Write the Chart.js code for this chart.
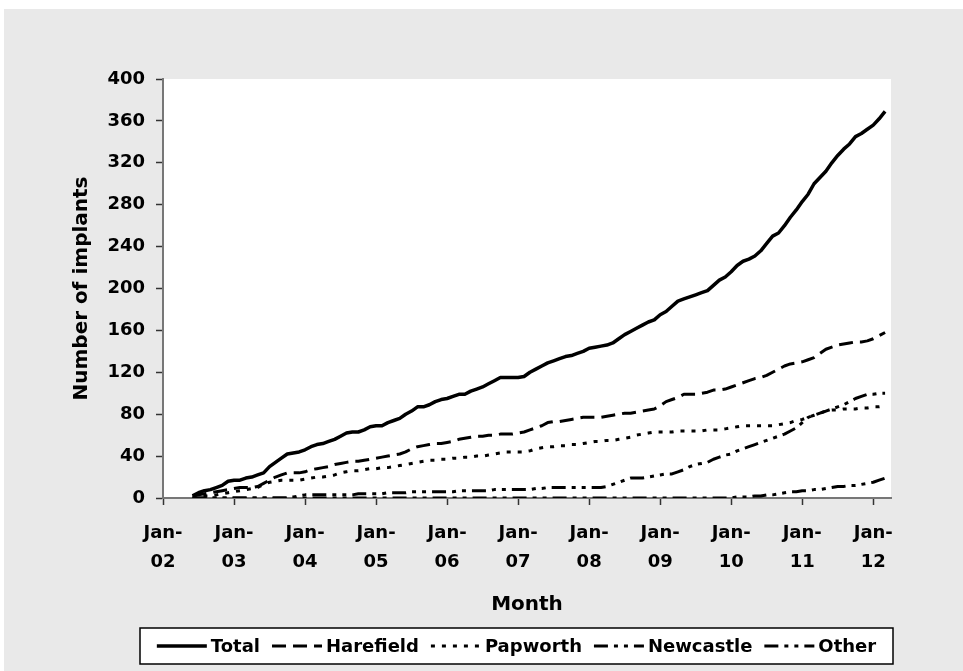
<!DOCTYPE html>
<html>
<head>
<meta charset="utf-8">
<script src="https://cdn.jsdelivr.net/npm/chart.js@4.4.0/dist/chart.umd.min.js"></script>
<style>
  html, body { margin: 0; padding: 0; background: #fff; }
  #wrap { position: absolute; left: 0; top: 0; width: 963px; height: 671px; }
</style>
</head>
<body>
<div id="wrap"><canvas id="chart" width="963" height="671"></canvas></div>
<script>
// months are counted from Jan 2002 (0); first data point is Jun 2002
const firstMonth = 5
const tickLabels = ['Jan-02', 'Jan-03', 'Jan-04', 'Jan-05', 'Jan-06', 'Jan-07', 'Jan-08', 'Jan-09', 'Jan-10', 'Jan-11', 'Jan-12']
const yTicks = [0, 40, 80, 120, 160, 200, 240, 280, 320, 360, 400]

const total = [
  2, 5, 7, 8, 10, 12, 16, 17, 17, 19,
  20, 22, 24, 30, 34, 38, 42, 43, 44, 46,
  49, 51, 52, 54, 56, 59, 62, 63, 63, 65,
  68, 69, 69, 72, 74, 76, 80, 83, 87, 87,
  89, 92, 94, 95, 97, 99, 99, 102, 104, 106,
  109, 112, 115, 115, 115, 115, 116, 120, 123, 126,
  129, 131, 133, 135, 136, 138, 140, 143, 144, 145,
  146, 148, 152, 156, 159, 162, 165, 168, 170, 175,
  178, 183, 188, 190, 192, 194, 196, 198, 203, 208,
  211, 216, 222, 226, 228, 231, 236, 243, 250, 253,
  260, 268, 275, 283, 290, 300, 306, 312, 320, 327,
  333, 338, 345, 348, 352, 356, 362, 369
]
const harefield = [
  2, 3, 4, 5, 6, 7, 8, 9, 10, 10,
  10, 11, 14, 17, 20, 22, 24, 24, 24, 25,
  27, 28, 29, 30, 32, 33, 34, 35, 35, 36,
  37, 38, 39, 40, 41, 42, 44, 47, 49, 50,
  51, 52, 52, 53, 54, 56, 57, 58, 59, 59,
  60, 60, 61, 61, 61, 62, 63, 65, 67, 69,
  72, 73, 73, 74, 75, 76, 77, 77, 77, 77,
  78, 79, 80, 81, 81, 82, 83, 84, 85, 88,
  92, 94, 96, 99, 99, 99, 100, 101, 103, 103,
  104, 106, 108, 110, 112, 114, 115, 117, 120, 123,
  126, 128, 129, 130, 132, 134, 138, 142, 144, 146,
  147, 148, 149, 149, 150, 152, 155, 158
]
const papworth = [
  0, 1, 2, 2, 3, 4, 5, 6, 7, 8,
  9, 10, 13, 15, 16, 17, 17, 17, 17, 18,
  19, 20, 20, 21, 22, 24, 25, 26, 26, 27,
  28, 28, 29, 29, 30, 31, 32, 33, 34, 35,
  36, 36, 37, 37, 38, 38, 39, 39, 40, 40,
  41, 42, 43, 44, 44, 44, 44, 45, 47, 48,
  49, 49, 50, 50, 51, 51, 52, 53, 54, 54,
  55, 55, 56, 57, 58, 60, 61, 62, 63, 63,
  63, 63, 64, 64, 64, 64, 64, 65, 65, 65,
  66, 67, 68, 69, 69, 69, 69, 69, 69, 70,
  71, 72, 74, 75, 77, 79, 81, 83, 84, 84,
  85, 85, 85, 86, 86, 87, 87, 88
]
const newcastle = [
  0, 0, 0, 0, 0, 0, 0, 0, 0, 0,
  0, 0, 0, 0, 0, 0, 0, 1, 2, 3,
  3, 3, 3, 3, 3, 3, 3, 3, 4, 4,
  4, 4, 4, 5, 5, 5, 5, 6, 6, 6,
  6, 6, 6, 6, 6, 7, 7, 7, 7, 7,
  7, 8, 8, 8, 8, 8, 8, 8, 9, 9,
  10, 10, 10, 10, 10, 10, 10, 10, 10, 10,
  11, 13, 15, 17, 19, 19, 19, 20, 21, 22,
  23, 23, 25, 27, 30, 32, 33, 34, 37, 39,
  41, 42, 45, 47, 49, 51, 53, 55, 57, 59,
  61, 64, 67, 72, 77, 79, 81, 83, 85, 87,
  89, 92, 95, 97, 99, 99, 100, 100
]
const other = [
  0, 0, 0, 0, 0, 0, 0, 0, 0, 0,
  0, 0, 0, 0, 0, 0, 0, 0, 0, 0,
  0, 0, 0, 0, 0, 0, 0, 0, 0, 0,
  0, 0, 0, 0, 0, 0, 0, 0, 0, 0,
  0, 0, 0, 0, 0, 0, 0, 0, 0, 0,
  0, 0, 0, 0, 0, 0, 0, 0, 0, 0,
  0, 0, 0, 0, 0, 0, 0, 0, 0, 0,
  0, 0, 0, 0, 0, 0, 0, 0, 0, 0,
  0, 0, 0, 0, 0, 0, 0, 0, 0, 0,
  0, 0, 1, 1, 1, 2, 2, 3, 3, 4,
  5, 6, 6, 7, 7, 8, 8, 9, 10, 11,
  11, 12, 12, 13, 14, 15, 17, 19
]

const series = [
  { label: 'Total', values: total, width: 3.5, dash: [] },
  { label: 'Harefield', values: harefield, width: 3, dash: [14, 7] },
  { label: 'Papworth', values: papworth, width: 3, dash: [4, 7] },
  { label: 'Newcastle', values: newcastle, width: 3, dash: [14, 6, 4, 6, 4, 6] },
  { label: 'Other', values: other, width: 3, dash: [14, 6, 4, 6, 4, 6] }
]

const fontFamily = '"DejaVu Sans", "Liberation Sans", Arial, sans-serif'

const backdrop = {
  id: 'backdrop',
  beforeDraw(chart) {
    const { ctx, chartArea } = chart
    ctx.save()
    ctx.fillStyle = '#e9e9e9'
    ctx.fillRect(4, 9, chart.width - 4, chart.height - 9)
    ctx.fillStyle = '#ffffff'
    ctx.fillRect(chartArea.left, chartArea.top, chartArea.right - chartArea.left, chartArea.bottom - chartArea.top)
    ctx.restore()
  }
}

const boxedLegend = {
  id: 'boxedLegend',
  afterDraw(chart) {
    const { ctx } = chart
    const box = { left: 140, top: 628, right: 893, bottom: 664 }
    const sample = 50
    const midY = (box.top + box.bottom) / 2
    ctx.save()
    ctx.fillStyle = '#ffffff'
    ctx.fillRect(box.left, box.top, box.right - box.left, box.bottom - box.top)
    ctx.strokeStyle = '#000'
    ctx.lineWidth = 1.5
    ctx.strokeRect(box.left, box.top, box.right - box.left, box.bottom - box.top)

    ctx.font = 'bold 18px ' + fontFamily
    ctx.textBaseline = 'middle'
    ctx.fillStyle = '#000'
    const items = chart.data.datasets.map(ds => ({ ds, w: ctx.measureText(ds.label).width }))
    const inner = 4
    const outer = 12
    const full = items.reduce((s, it) => s + sample + inner + it.w, 0) + outer * (items.length - 1)
    let x = (box.left + box.right) / 2 - full / 2
    items.forEach(({ ds, w }) => {
      ctx.lineWidth = ds.borderWidth
      ctx.setLineDash(ds.borderDash || [])
      ctx.beginPath()
      ctx.moveTo(x, midY)
      ctx.lineTo(x + sample, midY)
      ctx.stroke()
      ctx.setLineDash([])
      ctx.fillText(ds.label, x + sample + inner, midY + 1)
      x += sample + inner + w + outer
    })
    ctx.restore()
  }
}

new Chart(document.getElementById('chart').getContext('2d'), {
  type: 'line',
  data: {
    datasets: series.map(s => ({
      label: s.label,
      data: s.values.map((v, i) => ({ x: firstMonth + i, y: v })),
      borderColor: '#000',
      borderWidth: s.width,
      borderDash: s.dash,
      borderCapStyle: 'butt',
      borderJoinStyle: 'round',
      pointRadius: 0,
      tension: 0,
      fill: false
    }))
  },
  options: {
    responsive: false,
    animation: false,
    layout: { padding: { top: 79, right: 72, left: 0, bottom: 0 } },
    plugins: {
      legend: { display: false },
      tooltip: { enabled: false }
    },
    scales: {
      x: {
        type: 'linear',
        min: 0,
        max: 123,
        afterBuildTicks: scale => { scale.ticks = tickLabels.map((_, i) => ({ value: i * 12 })) },
        afterFit: scale => { scale.height = 173 },
        ticks: {
          autoSkip: false,
          maxRotation: 0,
          padding: 13,
          color: '#000',
          font: { family: fontFamily, size: 18, weight: 'bold', lineHeight: 1.65 },
          callback: value => {
            const label = tickLabels[Math.round(value / 12)]
            return [label.slice(0, 4), label.slice(4)]
          }
        },
        grid: { drawOnChartArea: false, tickLength: 7, tickColor: '#333', tickWidth: 1.5 },
        border: { color: '#777', width: 2 },
        title: {
          display: true,
          text: 'Month',
          color: '#000',
          font: { family: fontFamily, size: 20, weight: 'bold' },
          padding: { top: 4, bottom: 54 }
        }
      },
      y: {
        min: 0,
        max: 400,
        afterBuildTicks: scale => { scale.ticks = yTicks.map(v => ({ value: v })) },
        afterFit: scale => { scale.width = 163 },
        ticks: {
          padding: 11,
          color: '#000',
          font: { family: fontFamily, size: 18, weight: 'bold' }
        },
        grid: { drawOnChartArea: false, tickLength: 7, tickColor: '#333', tickWidth: 1.5 },
        border: { color: '#777', width: 2 },
        title: {
          display: true,
          text: 'Number of implants',
          color: '#000',
          font: { family: fontFamily, size: 20, weight: 'bold' },
          padding: { top: 70, bottom: 4 }
        }
      }
    }
  },
  plugins: [backdrop, boxedLegend]
})
</script>
</body>
</html>
